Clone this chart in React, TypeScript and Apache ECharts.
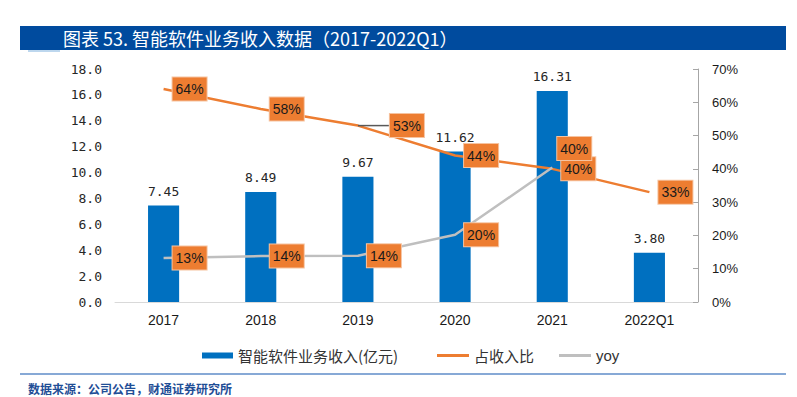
import React, { useEffect, useRef } from "react";
import * as echarts from "echarts";

const categories = ["2017", "2018", "2019", "2020", "2021", "2022Q1"];
const revenue = [7.45, 8.49, 9.67, 11.62, 16.31, 3.8];
const share = [64, 58, 53, 44, 40, 33];
const yoy = [13.2, 13.8, 13.9, 20.2, 40.4];
const leftTicks = { min: 0, max: 18, interval: 2 };
const rightTicks = { min: 0, max: 70, interval: 10 };

const titleText = "图表 53. 智能软件业务收入数据（2017-2022Q1）";
const sourceText = "数据来源：公司公告，财通证券研究所";
const seriesNames = ["智能软件业务收入(亿元)", "占收入比", "yoy"];

const boxLabel = {
  show: true,
  position: "right" as const,
  distance: 9,
  backgroundColor: "#ED7D31",
  borderColor: "#F6C3A0",
  borderWidth: 1,
  padding: [5, 3, 4, 3],
  color: "#1a1a1a",
  fontSize: 14,
  fontFamily: "Liberation Sans, Arial, sans-serif",
  formatter: (p: any) => Math.round(p.value) + "%",
};

export default function App() {
  const ref = useRef<HTMLDivElement>(null);
  useEffect(() => {
    if (!ref.current) return;
    const chart = echarts.init(ref.current, null, { renderer: "svg" });
    const legendBase = {
      top: 343,
      orient: "horizontal" as const,
      textStyle: { fontSize: 15, color: "#333333", fontFamily: "Noto Sans CJK SC, sans-serif" },
      itemGap: 0,
    };
    chart.setOption({
      animation: false,
      backgroundColor: "#ffffff",
      graphic: [
        { type: "rect", shape: { x: 20, y: 26, width: 766, height: 24 }, style: { fill: "#004B9E" } },
        { type: "rect", shape: { x: 28, y: 50, width: 32, height: 2 }, style: { fill: "#BDD7EE" } },
        {
          type: "text",
          x: 63,
          y: 38,
          style: {
            text: titleText,
            fill: "#ffffff",
            fontSize: 18,
            fontFamily: "Noto Sans CJK SC, sans-serif",
            verticalAlign: "middle",
          },
        },
        { type: "line", shape: { x1: 20, y1: 374, x2: 786, y2: 374 }, style: { stroke: "#5F8DC9", lineWidth: 1.5 } },
        {
          type: "text",
          x: 28,
          y: 388,
          style: {
            text: sourceText,
            fill: "#1F4E96",
            fontSize: 12,
            fontWeight: "bold",
            fontFamily: "Noto Sans CJK SC, sans-serif",
            verticalAlign: "middle",
          },
        },
      ],
      legend: [
        { ...legendBase, left: 197, data: [{ name: seriesNames[0], icon: "rect" }], itemWidth: 31, itemHeight: 6 },
        { ...legendBase, left: 432, data: [{ name: seriesNames[1], icon: "rect" }], itemWidth: 32, itemHeight: 3 },
        {
          ...legendBase,
          left: 554,
          data: [{ name: seriesNames[2], icon: "rect" }],
          itemWidth: 32,
          itemHeight: 3,
          textStyle: { ...legendBase.textStyle, fontFamily: "Liberation Sans, Arial, sans-serif" },
        },
      ],
      grid: { left: 115, right: 99, top: 69, bottom: 95 },
      xAxis: {
        type: "category",
        data: categories,
        axisLine: { show: true, lineStyle: { color: "#D9D9D9", width: 1 } },
        axisTick: { show: false },
        axisLabel: {
          margin: 11,
          fontSize: 14,
          color: "#1a1a1a",
          fontFamily: "Liberation Sans, Arial, sans-serif",
        },
      },
      yAxis: [
        {
          type: "value",
          ...leftTicks,
          axisLine: { show: false },
          axisTick: { show: false },
          splitLine: { show: false },
          axisLabel: {
            margin: 13,
            fontSize: 13,
            color: "#262626",
            fontFamily: "DejaVu Sans Mono, monospace",
            formatter: (v: number) => v.toFixed(1),
          },
        },
        {
          type: "value",
          position: "right",
          ...rightTicks,
          axisLine: { show: true, lineStyle: { color: "#A6A6A6", width: 1 } },
          axisTick: { show: true, inside: true, length: 5, lineStyle: { color: "#A6A6A6" } },
          splitLine: { show: false },
          axisLabel: {
            margin: 14,
            fontSize: 13,
            color: "#1a1a1a",
            fontFamily: "Liberation Sans, Arial, sans-serif",
            formatter: (v: number) => v + "%",
          },
        },
      ],
      series: [
        {
          name: seriesNames[0],
          type: "bar",
          data: revenue,
          barWidth: "32%",
          itemStyle: { color: "#0070C0" },
          label: {
            show: true,
            position: "top",
            distance: 8,
            fontSize: 13,
            color: "#262626",
            fontFamily: "DejaVu Sans Mono, monospace",
            formatter: (p: any) => Number(p.value).toFixed(2),
          },
        },
        {
          name: seriesNames[1],
          type: "line",
          yAxisIndex: 1,
          data: share.map((v, i) =>
            i === 2
              ? { value: v, labelLine: { show: true, lineStyle: { color: "#595959", width: 1.5 } } }
              : v
          ),
          symbol: "circle",
          symbolSize: 0,
          showSymbol: true,
          lineStyle: { color: "#ED7D31", width: 2.5 },
          itemStyle: { color: "#ED7D31" },
          label: boxLabel,
          labelLayout: (p: any) => (p.dataIndex === 2 ? { dx: 23 } : {}),
          z: 3,
        },
        {
          name: seriesNames[2],
          type: "line",
          yAxisIndex: 1,
          data: yoy.map((v, i) => (i === 4 ? { value: v, label: { offset: [-4, -19] } } : v)),
          symbol: "circle",
          symbolSize: 0,
          showSymbol: true,
          lineStyle: { color: "#BFBFBF", width: 2.5 },
          itemStyle: { color: "#BFBFBF" },
          label: boxLabel,
          z: 4,
        },
      ],
    });
    return () => chart.dispose();
  }, []);
  return <div ref={ref} style={{ width: 797, height: 397, position: "absolute", left: 0, top: 0 }} />;
}
